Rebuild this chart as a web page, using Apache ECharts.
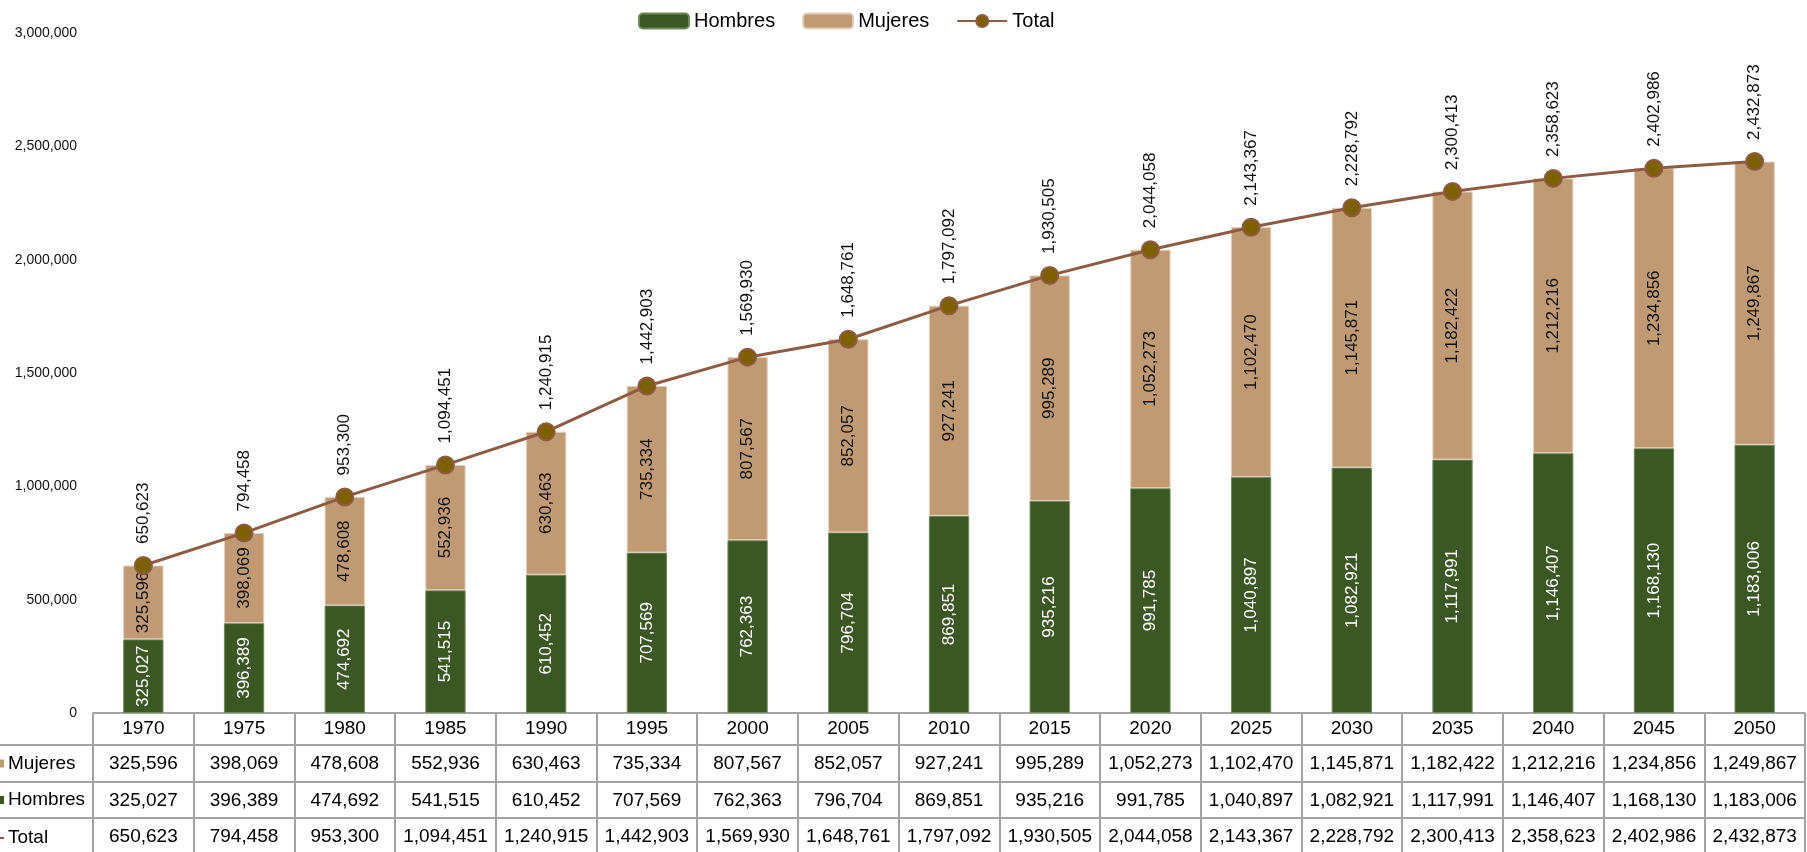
<!DOCTYPE html>
<html>
<head>
<meta charset="utf-8">
<script src="https://cdn.jsdelivr.net/npm/echarts@6/dist/echarts.min.js"></script>
<style>
html,body{margin:0;padding:0;background:#fff;}
#main{width:1807px;height:852px;}
</style>
</head>
<body>
<div id="main"></div>
<script>
// ---- data ----
var years = ['1970','1975','1980','1985','1990','1995','2000','2005','2010','2015','2020','2025','2030','2035','2040','2045','2050'];
var hombres = [325027,396389,474692,541515,610452,707569,762363,796704,869851,935216,991785,1040897,1082921,1117991,1146407,1168130,1183006];
var mujeres = [325596,398069,478608,552936,630463,735334,807567,852057,927241,995289,1052273,1102470,1145871,1182422,1212216,1234856,1249867];
var total = [650623,794458,953300,1094451,1240915,1442903,1569930,1648761,1797092,1930505,2044058,2143367,2228792,2300413,2358623,2402986,2432873];
var seriesNames = ['Hombres','Mujeres','Total'];
var yTicks = {min:0, max:3000000, interval:500000};

// ---- style ----
var FONT = '"Liberation Sans Narrow","Arial Narrow","Liberation Sans",Arial,sans-serif';
var C_H = '#3B5724', C_M = '#C09A73', C_LINE = '#8E5B45', C_MARK = '#7F6000';
var GRID = {left:93, right:2, top:33, bottom:139, outerBoundsMode:'none', containLabel:false};
var TBL = '#A3A3A3';
var rowH = [32, 37, 36, 40];
var TFS = 19;
function fmt(v){ return String(v).replace(/\B(?=(\d{3})+(?!\d))/g, ','); }

var chart = echarts.init(document.getElementById('main'), null, {renderer:'canvas'});

function tableAxis(idx, offset, h, margin, formatter, name, markRich){
  var ax = {
    type:'category', data:years, gridIndex:0, position:'bottom', offset:offset,
    boundaryGap:true,
    axisLine:{show:true, lineStyle:{color:TBL, width:2}},
    axisTick:{show:true, interval:0, length:h, lineStyle:{color:TBL, width:2}},
    axisLabel:{show:true, interval:0, margin:margin, fontSize:TFS, color:'#000', fontFamily:FONT, formatter:formatter},
    splitLine:{show:false}
  };
  if (name) {
    ax.name = '{m|}{n|' + name + '}';
    ax.nameLocation = 'start';
    ax.nameGap = 97;
    ax.nameTextStyle = {
      align:'left', verticalAlign:'middle', padding:[h,0,0,0], fontFamily:FONT, fontSize:TFS, color:'#000',
      rich:{ m: markRich, n:{fontSize:TFS, fontFamily:FONT, color:'#000', padding:[0,0,0,4]} }
    };
  }
  return ax;
}

var o1 = rowH[0], o2 = rowH[0]+rowH[1], o3 = rowH[0]+rowH[1]+rowH[2];

var option = {
  animation:false,
  textStyle:{fontFamily:FONT},
  legend:{
    data:seriesNames, left:633, top:6, itemWidth:50, itemHeight:15, itemGap:27,
    textStyle:{fontSize:20, color:'#000', fontFamily:FONT}
  },
  grid:GRID,
  xAxis:[
    tableAxis(0, 0, rowH[0], 6, function(v){return v;}),
    tableAxis(1, o1, rowH[1], 9, function(v,i){return fmt(mujeres[i]);}, seriesNames[1], {width:8, height:8, backgroundColor:C_M}),
    tableAxis(2, o2, rowH[2], 9, function(v,i){return fmt(hombres[i]);}, seriesNames[0], {width:8, height:8, backgroundColor:C_H}),
    tableAxis(3, o3, rowH[3], 9, function(v,i){return fmt(total[i]);}, seriesNames[2], {width:8, height:2, backgroundColor:C_LINE})
  ],
  yAxis:{
    type:'value', min:yTicks.min, max:yTicks.max, interval:yTicks.interval,
    axisLine:{show:false}, axisTick:{show:false}, splitLine:{show:false},
    axisLabel:{fontSize:14, color:'#111', margin:16, fontFamily:FONT, formatter:function(v){return fmt(v);}}
  },
  graphic:[
    {type:'line', shape:{x1:0, y1:852-GRID.bottom+o1, x2:GRID.left, y2:852-GRID.bottom+o1}, style:{stroke:TBL, lineWidth:2}},
    {type:'line', shape:{x1:0, y1:852-GRID.bottom+o2, x2:GRID.left, y2:852-GRID.bottom+o2}, style:{stroke:TBL, lineWidth:2}},
    {type:'line', shape:{x1:0, y1:852-GRID.bottom+o3, x2:GRID.left, y2:852-GRID.bottom+o3}, style:{stroke:TBL, lineWidth:2}}
  ],
  series:[
    {
      name:seriesNames[0], type:'bar', stack:'pop', data:hombres, barCategoryGap:'60%',
      itemStyle:{color:C_H, borderColor:'#6E8A58', borderWidth:1},
      label:{show:true, position:'inside', rotate:90, color:'#fff', fontSize:17, fontFamily:FONT, formatter:function(p){return fmt(p.value);}}
    },
    {
      name:seriesNames[1], type:'bar', stack:'pop', data:mujeres, barCategoryGap:'60%',
      itemStyle:{color:C_M, borderColor:'#E2CFBB', borderWidth:1},
      label:{show:true, position:'inside', rotate:90, color:'#111', fontSize:17, fontFamily:FONT, formatter:function(p){return fmt(p.value);}}
    },
    {
      name:seriesNames[2], type:'line', data:total, z:5,
      lineStyle:{color:C_LINE, width:3},
      symbol:'circle', symbolSize:17,
      itemStyle:{color:C_MARK, borderColor:C_LINE, borderWidth:2},
      label:{show:true, position:'top', rotate:90, align:'left', verticalAlign:'middle', distance:12, color:'#111', fontSize:17, fontFamily:FONT, formatter:function(p){return fmt(p.value);}}
    }
  ]
};
chart.setOption(option);
</script>
</body>
</html>
